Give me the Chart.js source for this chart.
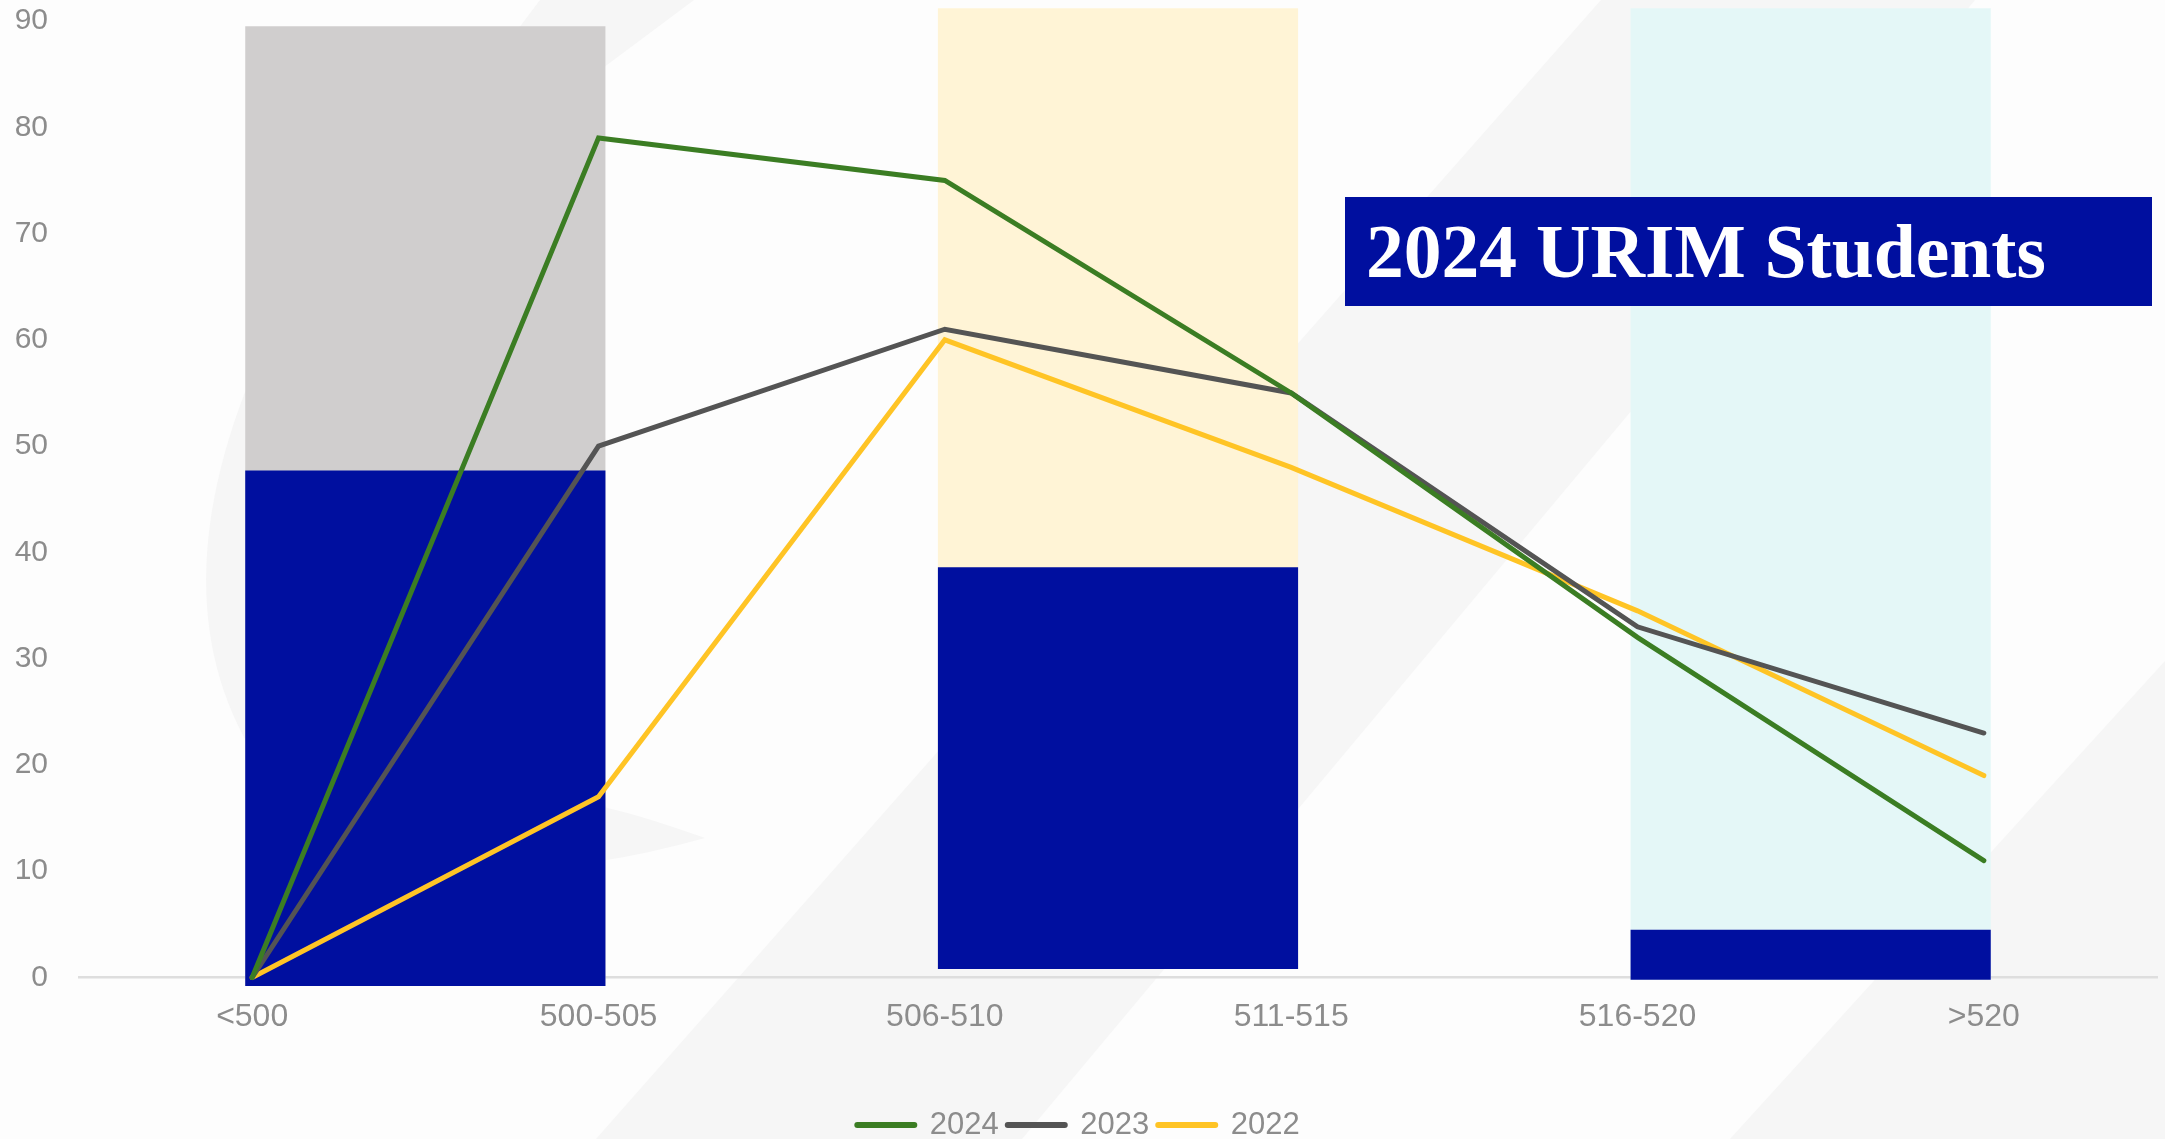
<!DOCTYPE html>
<html>
<head>
<meta charset="utf-8">
<script src="https://cdn.jsdelivr.net/npm/chart.js@4.4.1/dist/chart.umd.min.js"></script>
<style>
  html, body { margin: 0; padding: 0; background: #fdfdfd; overflow: hidden; }
  #wrap { position: relative; width: 2165px; height: 1139px; }
  canvas { display: block; }
</style>
</head>
<body>
<div id="wrap"><canvas id="chart"></canvas></div>
<script>
// MCAT score bands
const scoreBands = ['<500', '500-505', '506-510', '511-515', '516-520', '>520'];

// students per band, by year
const students2024 = [0, 79, 75, 55, 32, 11];
const students2023 = [0, 50, 61, 55, 33, 23];
const students2022 = [0, 17, 60, 48, 34.5, 19];

// backdrop blocks, each spanning two bands (floating [from, to])
const blockGroups = ['<500 - 505', '506 - 515', '516 - >520'];
const blockTotals = [[-0.8, 89.5], [0.8, 91.2], [-0.2, 91.2]];
const blockUrim = [[-0.8, 47.7], [0.8, 38.6], [-0.2, 4.5]];
const blockColors = ['#d0cece', '#fff4d6', '#e4f7f7'];

const yTickMax = 90;
const yTickStep = 10;

const titleText = '2024 URIM Students';

const GREY_TEXT = '#8c8c8c';
const SANS = "'Liberation Sans', Arial, sans-serif";

// faint slide watermark behind the chart
const watermark = {
	id: 'watermark',
	beforeDraw( chart ) {
		const { ctx, width, height } = chart;
		ctx.save();
		ctx.fillStyle = '#fdfdfd';
		ctx.fillRect( 0, 0, width, height );
		ctx.fillStyle = '#f6f6f6';

		// swoosh on the left
		ctx.beginPath();
		ctx.moveTo( 540, 0 );
		ctx.lineTo( 245, 392 );
		ctx.quadraticCurveTo( 150, 640, 287, 800 );
		ctx.quadraticCurveTo( 430, 915, 705, 838 );
		ctx.quadraticCurveTo( 640, 815, 607, 808 );
		ctx.lineTo( 420, 600 );
		ctx.lineTo( 560, 100 );
		ctx.lineTo( 694, 0 );
		ctx.closePath();
		ctx.fill();

		// diagonal stripe
		ctx.beginPath();
		ctx.moveTo( 1601, 0 );
		ctx.lineTo( 1975, 0 );
		ctx.lineTo( 1022, height );
		ctx.lineTo( 596, height );
		ctx.closePath();
		ctx.fill();

		// lower right corner
		ctx.beginPath();
		ctx.moveTo( width, 661 );
		ctx.lineTo( width, height );
		ctx.lineTo( 1730, height );
		ctx.closePath();
		ctx.fill();
		ctx.restore();
	},
};

// blue label box in the upper right
const titleBox = {
	id: 'titleBox',
	afterDraw( chart ) {
		const { ctx } = chart;
		const x = 1345, y = 197, w = 807, h = 109;
		ctx.save();
		ctx.fillStyle = '#000f9f';
		ctx.fillRect( x, y, w, h );
		ctx.fillStyle = '#ffffff';
		ctx.textBaseline = 'alphabetic';
		ctx.font = "bold 100px 'Liberation Serif', 'Times New Roman', serif";
		const size = Math.min( 80, 100 * 680 / ctx.measureText( titleText ).width );
		ctx.font = 'bold ' + size + "px 'Liberation Serif', 'Times New Roman', serif";
		ctx.fillText( titleText, 1366, 277 );
		ctx.restore();
	},
};

const lineSet = ( label, data, color ) => ( {
	type: 'line',
	label,
	data,
	borderColor: color,
	backgroundColor: color,
	borderWidth: 5,
	borderCapStyle: 'round',
	borderJoinStyle: 'miter',
	pointRadius: 0,
	tension: 0,
	clip: false,
	order: 0,
} );

new Chart( document.getElementById( 'chart' ), {
	data: {
		labels: scoreBands,
		datasets: [
			lineSet( '2024', students2024, '#3b7d23' ),
			lineSet( '2023', students2023, '#545454' ),
			lineSet( '2022', students2022, '#ffc425' ),
			{
				type: 'bar',
				label: 'URIM',
				data: blockUrim,
				xAxisID: 'x2',
				backgroundColor: '#000f9f',
				grouped: false,
				barPercentage: 1,
				categoryPercentage: 0.52,
				clip: false,
				order: 1,
			},
			{
				type: 'bar',
				label: 'Total',
				data: blockTotals,
				xAxisID: 'x2',
				backgroundColor: blockColors,
				grouped: false,
				barPercentage: 1,
				categoryPercentage: 0.52,
				clip: false,
				order: 2,
			},
		],
	},
	options: {
		responsive: true,
		maintainAspectRatio: false,
		animation: false,
		layout: {
			padding: { top: 21, right: 8, bottom: -11.5, left: 0 },
		},
		plugins: {
			tooltip: { enabled: false },
			legend: {
				position: 'bottom',
				labels: {
					filter: ( item ) => item.datasetIndex < 3,
					usePointStyle: true,
					pointStyle: 'line',
					pointStyleWidth: 57,
					padding: 9,
					color: GREY_TEXT,
					font: { family: SANS, size: 31 },
					generateLabels( chart ) {
						return Chart.defaults.plugins.legend.labels.generateLabels( chart ).map( ( item ) => {
							item.lineWidth = 6;
							item.lineCap = 'round';
							return item;
						} );
					},
				},
			},
		},
		scales: {
			x: {
				type: 'category',
				offset: true,
				grid: { display: false, drawTicks: false },
				border: { display: true, color: '#dedede', width: 2.5 },
				ticks: { color: GREY_TEXT, font: { family: SANS, size: 32 }, padding: 20, maxRotation: 0 },
				afterFit( scale ) {
					scale.height = 123;
				},
			},
			x2: {
				type: 'category',
				labels: blockGroups,
				offset: true,
				display: false,
			},
			y: {
				min: 0,
				max: yTickMax,
				grid: { display: false, drawTicks: false },
				border: { display: false },
				ticks: { stepSize: yTickStep, color: GREY_TEXT, font: { family: SANS, size: 30 }, padding: 31 },
				afterFit( scale ) {
					scale.width = 79;
					scale.paddingTop = 0;
					scale.paddingBottom = 0;
				},
			},
		},
	},
	plugins: [ watermark, titleBox ],
} );
</script>
</body>
</html>
